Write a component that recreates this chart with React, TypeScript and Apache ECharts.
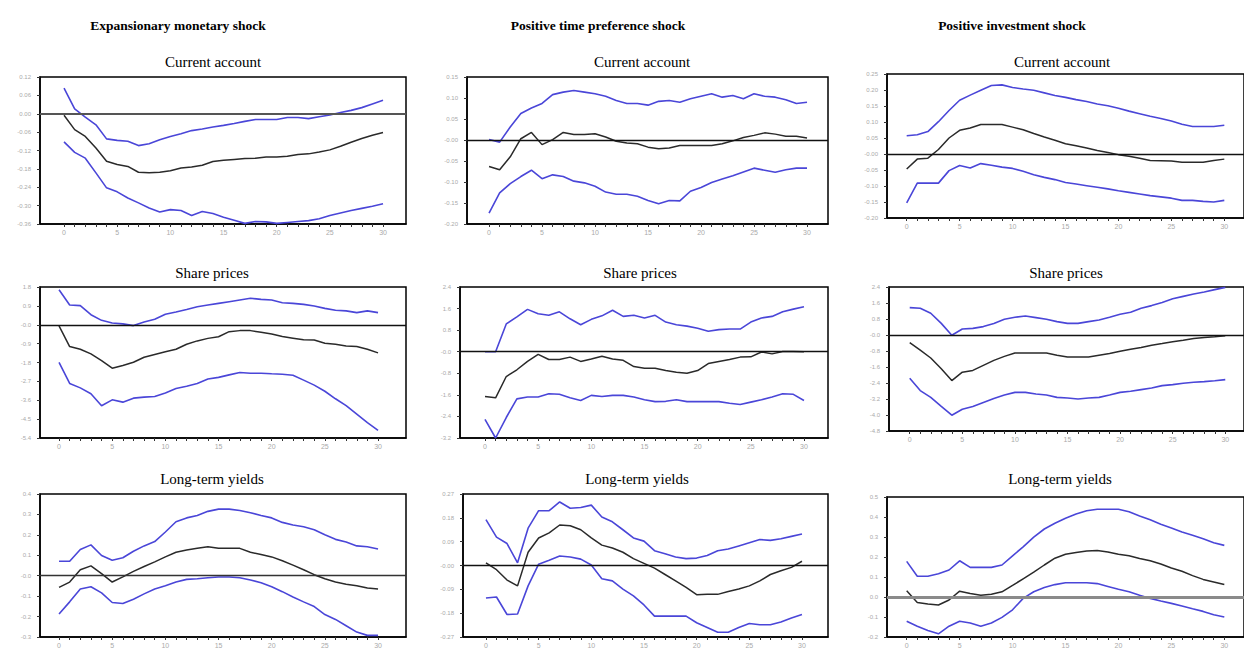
import React, { useEffect, useRef } from "react";
import * as echarts from "echarts";

// horizon (periods 0..30)
const periods = [0,1,2,3,4,5,6,7,8,9,10,11,12,13,14,15,16,17,18,19,20,21,22,23,24,25,26,27,28,29,30];
const xTickLabels = ["0", "5", "10", "15", "20", "25", "30"];
const xLabelValues = [0, 5, 10, 15, 20, 25, 30];

const columnTitles = ["Expansionary monetary shock", "Positive time preference shock", "Positive investment shock"];
const rowTitles = ["Current account", "Share prices", "Long-term yields"];

// ---- Row 1: Current account ----
const caMonUpper = [0.084,0.016,-0.011,-0.036,-0.082,-0.087,-0.090,-0.104,-0.098,-0.085,-0.074,-0.065,-0.055,-0.050,-0.043,-0.038,-0.032,-0.025,-0.019,-0.019,-0.019,-0.012,-0.012,-0.016,-0.010,-0.004,0.004,0.011,0.020,0.032,0.044];
const caMonMid = [-0.005,-0.052,-0.074,-0.112,-0.155,-0.166,-0.172,-0.191,-0.193,-0.191,-0.186,-0.177,-0.174,-0.168,-0.156,-0.152,-0.149,-0.146,-0.145,-0.141,-0.141,-0.139,-0.133,-0.131,-0.125,-0.118,-0.106,-0.093,-0.081,-0.070,-0.061];
const caMonLower = [-0.092,-0.126,-0.145,-0.193,-0.242,-0.255,-0.275,-0.291,-0.308,-0.321,-0.313,-0.316,-0.332,-0.319,-0.326,-0.338,-0.348,-0.358,-0.352,-0.353,-0.358,-0.355,-0.352,-0.349,-0.343,-0.332,-0.324,-0.316,-0.309,-0.302,-0.294];
const caMonTicks = [0.12, 0.06, 0, -0.06, -0.12, -0.18, -0.24, -0.30, -0.36];
const caMonTickLabels = ["0.12", "0.06", "0.00", "-0.06", "-0.12", "-0.18", "-0.24", "-0.30", "-0.36"];

const caTimeUpper = [0.001,-0.005,0.031,0.063,0.076,0.087,0.108,0.114,0.118,0.114,0.110,0.104,0.094,0.087,0.087,0.083,0.092,0.094,0.090,0.098,0.104,0.110,0.102,0.106,0.098,0.110,0.104,0.102,0.096,0.087,0.090];
const caTimeMid = [-0.063,-0.071,-0.040,0.003,0.018,-0.011,0.001,0.018,0.013,0.013,0.015,0.007,-0.003,-0.007,-0.009,-0.017,-0.021,-0.019,-0.013,-0.013,-0.013,-0.013,-0.009,-0.002,0.006,0.011,0.017,0.014,0.009,0.009,0.005];
const caTimeLower = [-0.174,-0.126,-0.104,-0.087,-0.072,-0.092,-0.083,-0.087,-0.098,-0.102,-0.110,-0.124,-0.129,-0.129,-0.134,-0.144,-0.152,-0.144,-0.145,-0.122,-0.113,-0.101,-0.093,-0.085,-0.076,-0.067,-0.072,-0.077,-0.071,-0.067,-0.067];
const caTimeTicks = [0.15, 0.10, 0.05, 0, -0.05, -0.10, -0.15, -0.20];
const caTimeTickLabels = ["0.15", "0.10", "0.05", "-0.00", "-0.05", "-0.10", "-0.15", "-0.20"];

const caInvUpper = [0.057,0.060,0.070,0.101,0.136,0.168,0.184,0.199,0.214,0.216,0.208,0.203,0.199,0.191,0.183,0.177,0.170,0.164,0.156,0.151,0.143,0.134,0.126,0.118,0.111,0.103,0.093,0.086,0.086,0.086,0.090];
const caInvMid = [-0.047,-0.016,-0.013,0.014,0.050,0.074,0.081,0.092,0.092,0.092,0.084,0.076,0.064,0.053,0.043,0.032,0.026,0.019,0.011,0.005,-0.002,-0.007,-0.013,-0.020,-0.021,-0.022,-0.026,-0.026,-0.026,-0.020,-0.016];
const caInvLower = [-0.153,-0.091,-0.091,-0.091,-0.052,-0.036,-0.044,-0.030,-0.035,-0.041,-0.045,-0.054,-0.065,-0.073,-0.080,-0.089,-0.094,-0.099,-0.104,-0.109,-0.115,-0.120,-0.125,-0.130,-0.134,-0.138,-0.145,-0.145,-0.148,-0.150,-0.145];
const caInvTicks = [0.25, 0.20, 0.15, 0.10, 0.05, 0, -0.05, -0.10, -0.15, -0.20];
const caInvTickLabels = ["0.25", "0.20", "0.15", "0.10", "0.05", "-0.00", "-0.05", "-0.10", "-0.15", "-0.20"];

// ---- Row 2: Share prices ----
const spMonUpper = [1.67,0.94,0.91,0.48,0.21,0.08,0.04,-0.04,0.13,0.26,0.50,0.61,0.73,0.86,0.94,1.02,1.10,1.18,1.26,1.21,1.18,1.05,1.02,0.97,0.89,0.78,0.69,0.66,0.58,0.66,0.58];
const spMonMid = [-0.05,-1.04,-1.17,-1.39,-1.71,-2.07,-1.94,-1.79,-1.55,-1.42,-1.29,-1.17,-0.93,-0.77,-0.65,-0.57,-0.33,-0.28,-0.28,-0.36,-0.44,-0.56,-0.64,-0.72,-0.73,-0.88,-0.93,-1.01,-1.04,-1.17,-1.34];
const spMonLower = [-1.79,-2.80,-3.01,-3.29,-3.86,-3.58,-3.69,-3.50,-3.45,-3.42,-3.25,-3.04,-2.93,-2.80,-2.59,-2.51,-2.39,-2.28,-2.31,-2.31,-2.34,-2.36,-2.41,-2.64,-2.88,-3.17,-3.53,-3.86,-4.26,-4.67,-5.04];
const spMonTicks = [1.8, 0.9, 0, -0.9, -1.8, -2.7, -3.6, -4.5, -5.4];
const spMonTickLabels = ["1.8", "0.9", "-0.0", "-0.9", "-1.8", "-2.7", "-3.6", "-4.5", "-5.4"];

const spTimeUpper = [0.0,0.0,1.03,1.29,1.57,1.41,1.35,1.48,1.22,1.00,1.20,1.33,1.54,1.31,1.35,1.25,1.35,1.10,1.00,0.95,0.87,0.76,0.82,0.84,0.84,1.10,1.25,1.31,1.48,1.58,1.67];
const spTimeMid = [-1.66,-1.71,-0.92,-0.67,-0.36,-0.10,-0.29,-0.29,-0.20,-0.36,-0.27,-0.17,-0.27,-0.32,-0.55,-0.61,-0.61,-0.70,-0.76,-0.80,-0.70,-0.44,-0.36,-0.29,-0.20,-0.19,-0.01,-0.08,0.01,0.01,0.0];
const spTimeLower = [-2.51,-3.20,-2.44,-1.75,-1.68,-1.68,-1.56,-1.58,-1.71,-1.81,-1.62,-1.66,-1.62,-1.62,-1.68,-1.78,-1.85,-1.84,-1.78,-1.85,-1.85,-1.85,-1.85,-1.91,-1.96,-1.87,-1.78,-1.68,-1.56,-1.58,-1.81];
const spTimeTicks = [2.4, 1.6, 0.8, 0, -0.8, -1.6, -2.4, -3.2];
const spTimeTickLabels = ["2.4", "1.6", "0.8", "-0.0", "-0.8", "-1.6", "-2.4", "-3.2"];

const spInvUpper = [1.37,1.34,1.09,0.58,-0.01,0.30,0.33,0.42,0.58,0.79,0.89,0.95,0.87,0.79,0.67,0.58,0.58,0.67,0.75,0.89,1.04,1.14,1.34,1.47,1.63,1.81,1.93,2.05,2.15,2.27,2.38];
const spInvMid = [-0.38,-0.76,-1.15,-1.69,-2.28,-1.86,-1.77,-1.52,-1.27,-1.07,-0.90,-0.90,-0.90,-0.90,-1.01,-1.10,-1.10,-1.10,-1.01,-0.93,-0.81,-0.71,-0.63,-0.51,-0.43,-0.34,-0.26,-0.17,-0.12,-0.09,-0.04];
const spInvLower = [-2.16,-2.78,-3.12,-3.57,-4.01,-3.71,-3.57,-3.37,-3.17,-3.00,-2.87,-2.87,-2.95,-3.00,-3.12,-3.15,-3.20,-3.15,-3.12,-3.00,-2.87,-2.81,-2.73,-2.65,-2.53,-2.48,-2.41,-2.36,-2.33,-2.29,-2.23];
const spInvTicks = [2.4, 1.6, 0.8, 0, -0.8, -1.6, -2.4, -3.2, -4.0, -4.8];
const spInvTickLabels = ["2.4", "1.6", "0.8", "-0.0", "-0.8", "-1.6", "-2.4", "-3.2", "-4.0", "-4.8"];

// ---- Row 3: Long-term yields ----
const lyMonUpper = [0.071,0.071,0.128,0.151,0.099,0.076,0.088,0.120,0.146,0.167,0.214,0.264,0.283,0.295,0.315,0.326,0.326,0.319,0.308,0.295,0.283,0.261,0.248,0.240,0.225,0.201,0.178,0.165,0.146,0.142,0.131];
const lyMonMid = [-0.057,-0.031,0.029,0.048,0.010,-0.031,-0.006,0.021,0.045,0.068,0.092,0.115,0.126,0.134,0.142,0.134,0.134,0.134,0.115,0.104,0.092,0.073,0.052,0.029,0.005,-0.015,-0.031,-0.042,-0.049,-0.060,-0.065];
const lyMonLower = [-0.187,-0.128,-0.065,-0.054,-0.084,-0.131,-0.136,-0.115,-0.089,-0.065,-0.049,-0.031,-0.018,-0.015,-0.010,-0.006,-0.006,-0.010,-0.021,-0.034,-0.054,-0.078,-0.104,-0.128,-0.151,-0.190,-0.214,-0.245,-0.276,-0.292,-0.292];
const lyMonTicks = [0.4, 0.3, 0.2, 0.1, 0, -0.1, -0.2, -0.3];
const lyMonTickLabels = ["0.4", "0.3", "0.2", "0.1", "-0.0", "-0.1", "-0.2", "-0.3"];

const lyTimeUpper = [0.173,0.107,0.083,0.010,0.141,0.207,0.207,0.240,0.216,0.219,0.228,0.183,0.165,0.135,0.104,0.092,0.056,0.044,0.032,0.026,0.028,0.038,0.056,0.062,0.074,0.086,0.098,0.095,0.101,0.110,0.119];
const lyTimeMid = [0.010,-0.016,-0.055,-0.077,0.050,0.104,0.123,0.153,0.150,0.135,0.104,0.077,0.066,0.050,0.026,0.008,-0.010,-0.034,-0.058,-0.083,-0.110,-0.109,-0.109,-0.098,-0.089,-0.077,-0.058,-0.034,-0.020,-0.007,0.016];
const lyTimeLower = [-0.123,-0.119,-0.185,-0.183,-0.077,0.005,0.020,0.036,0.032,0.024,0.002,-0.050,-0.058,-0.089,-0.115,-0.149,-0.191,-0.191,-0.191,-0.191,-0.216,-0.234,-0.252,-0.252,-0.234,-0.219,-0.224,-0.224,-0.213,-0.198,-0.185];
const lyTimeTicks = [0.27, 0.18, 0.09, 0, -0.09, -0.18, -0.27];
const lyTimeTickLabels = ["0.27", "0.18", "0.09", "-0.00", "-0.09", "-0.18", "-0.27"];

const lyInvUpper = [0.178,0.104,0.104,0.116,0.135,0.181,0.148,0.148,0.148,0.160,0.206,0.251,0.299,0.340,0.369,0.394,0.415,0.431,0.439,0.439,0.439,0.426,0.405,0.386,0.364,0.345,0.325,0.309,0.291,0.271,0.258];
const lyInvMid = [0.031,-0.027,-0.035,-0.040,-0.015,0.029,0.018,0.009,0.014,0.026,0.058,0.091,0.124,0.160,0.194,0.214,0.222,0.230,0.233,0.225,0.214,0.206,0.193,0.181,0.165,0.145,0.129,0.107,0.088,0.075,0.062];
const lyInvLower = [-0.121,-0.146,-0.167,-0.184,-0.146,-0.121,-0.130,-0.146,-0.130,-0.102,-0.064,-0.007,0.026,0.047,0.062,0.071,0.071,0.071,0.067,0.053,0.039,0.026,0.009,-0.007,-0.020,-0.032,-0.045,-0.059,-0.072,-0.089,-0.100];
const lyInvTicks = [0.5, 0.4, 0.3, 0.2, 0.1, 0, -0.1, -0.2];
const lyInvTickLabels = ["0.5", "0.4", "0.3", "0.2", "0.1", "0.0", "-0.1", "-0.2"];

type Panel = {
  upper: number[]; mid: number[]; lower: number[];
  ticks: number[]; tickLabels: string[];
  grid: { left: number; top: number; width: number; height: number };
  xMin: number; xMax: number;
  titleX: number; titleY: number; title: string;
  zeroColor: string; zeroWidth: number;
};

const panels: Panel[] = [
  { upper: caMonUpper, mid: caMonMid, lower: caMonLower, ticks: caMonTicks, tickLabels: caMonTickLabels,
    grid: { left: 40, top: 77, width: 366, height: 147 }, xMin: -2.26, xMax: 32.16, titleX: 213, titleY: 54, title: rowTitles[0], zeroColor: "#555", zeroWidth: 1.8 },
  { upper: caTimeUpper, mid: caTimeMid, lower: caTimeLower, ticks: caTimeTicks, tickLabels: caTimeTickLabels,
    grid: { left: 467, top: 77, width: 361, height: 147 }, xMin: -2.08, xMax: 31.98, titleX: 642, titleY: 54, title: rowTitles[0], zeroColor: "#111", zeroWidth: 1.3 },
  { upper: caInvUpper, mid: caInvMid, lower: caInvLower, ticks: caInvTicks, tickLabels: caInvTickLabels,
    grid: { left: 887, top: 74, width: 362, height: 144 }, xMin: -1.86, xMax: 31.86, titleX: 1062, titleY: 54, title: rowTitles[0], zeroColor: "#111", zeroWidth: 1.3 },
  { upper: spMonUpper, mid: spMonMid, lower: spMonLower, ticks: spMonTicks, tickLabels: spMonTickLabels,
    grid: { left: 40, top: 287, width: 366, height: 151 }, xMin: -1.79, xMax: 32.63, titleX: 212, titleY: 265, title: rowTitles[1], zeroColor: "#111", zeroWidth: 1.3 },
  { upper: spTimeUpper, mid: spTimeMid, lower: spTimeLower, ticks: spTimeTicks, tickLabels: spTimeTickLabels,
    grid: { left: 460, top: 287, width: 368, height: 151 }, xMin: -2.35, xMax: 32.26, titleX: 640, titleY: 265, title: rowTitles[1], zeroColor: "#111", zeroWidth: 1.3 },
  { upper: spInvUpper, mid: spInvMid, lower: spInvLower, ticks: spInvTicks, tickLabels: spInvTickLabels,
    grid: { left: 889, top: 287, width: 360, height: 144 }, xMin: -1.97, xMax: 31.78, titleX: 1066, titleY: 265, title: rowTitles[1], zeroColor: "#111", zeroWidth: 1.3 },
  { upper: lyMonUpper, mid: lyMonMid, lower: lyMonLower, ticks: lyMonTicks, tickLabels: lyMonTickLabels,
    grid: { left: 40, top: 494, width: 366, height: 149 }, xMin: -1.79, xMax: 32.63, titleX: 212, titleY: 471, title: rowTitles[2], zeroColor: "#333", zeroWidth: 1.3 },
  { upper: lyTimeUpper, mid: lyTimeMid, lower: lyTimeLower, ticks: lyTimeTicks, tickLabels: lyTimeTickLabels,
    grid: { left: 463, top: 494, width: 365, height: 149 }, xMin: -2.18, xMax: 32.47, titleX: 637, titleY: 471, title: rowTitles[2], zeroColor: "#111", zeroWidth: 1.3 },
  { upper: lyInvUpper, mid: lyInvMid, lower: lyInvLower, ticks: lyInvTicks, tickLabels: lyInvTickLabels,
    grid: { left: 887, top: 497, width: 362, height: 142 }, xMin: -1.86, xMax: 31.86, titleX: 1060, titleY: 471, title: rowTitles[2], zeroColor: "#8a8a8a", zeroWidth: 3 },
];

const columnTitleX = [178, 598, 1012];

const BLUE = "#4a46d8";
const BLACK = "#2a2a2a";

function App() {
  const ref = useRef<HTMLDivElement>(null);
  useEffect(() => {
    if (!ref.current) return;
    const chart = echarts.init(ref.current, undefined, { renderer: "svg" });
    const grids: any[] = [];
    const xAxes: any[] = [];
    const yAxes: any[] = [];
    const series: any[] = [];
    const titles: any[] = [];

    columnTitles.forEach((t, i) => {
      titles.push({
        text: t, left: columnTitleX[i], top: 18, textAlign: "center", padding: 0,
        textStyle: { fontFamily: "Liberation Serif, Times New Roman, serif", fontSize: 13.5, fontWeight: "bold", color: "#000" },
      });
    });

    panels.forEach((p, i) => {
      grids.push({ ...p.grid, show: true, borderColor: "#000", borderWidth: 1.5, backgroundColor: "transparent" });
      titles.push({
        text: p.title, left: p.titleX, top: p.titleY, textAlign: "center", padding: 0,
        textStyle: { fontFamily: "Liberation Serif, Times New Roman, serif", fontSize: 15, fontWeight: "normal", color: "#000" },
      });
      xAxes.push({
        type: "value", gridIndex: i, min: p.xMin, max: p.xMax,
        axisLine: { show: true, onZero: false, lineStyle: { color: "#000", width: 1.5 } },
        axisTick: { show: true, customValues: periods, length: 3, lineStyle: { color: "#333", width: 1 } },
        axisLabel: {
          show: true, customValues: xLabelValues, fontSize: 7, color: "#aaa", margin: 5,
          fontFamily: "Liberation Sans, Arial, sans-serif",
          formatter: (v: number) => xTickLabels[xLabelValues.indexOf(Math.round(v))] ?? "",
        },
        splitLine: { show: false },
      });
      const minY = p.ticks[p.ticks.length - 1];
      const maxY = p.ticks[0];
      yAxes.push({
        type: "value", gridIndex: i, min: minY, max: maxY,
        axisLine: { show: true, onZero: false, lineStyle: { color: "#000", width: 1.5 } },
        axisTick: { show: true, customValues: p.ticks, length: 3, lineStyle: { color: "#333", width: 1 } },
        axisLabel: {
          show: true, customValues: p.ticks, fontSize: 6, color: "#aaa", margin: 9,
          fontFamily: "Liberation Sans, Arial, sans-serif",
          formatter: (v: number) => {
            let idx = 0; let best = Infinity;
            p.ticks.forEach((t, k) => { const d = Math.abs(t - v); if (d < best) { best = d; idx = k; } });
            return p.tickLabels[idx];
          },
        },
        splitLine: { show: false },
      });
      const mk = (arr: number[]) => periods.map((x, k) => [x, arr[k]]);
      series.push({
        type: "line", xAxisIndex: i, yAxisIndex: i, data: mk(p.mid), showSymbol: false, symbol: "none",
        lineStyle: { color: BLACK, width: 1.5 }, z: 3,
        markLine: {
          silent: true, symbol: "none", label: { show: false },
          lineStyle: { color: p.zeroColor, width: p.zeroWidth, type: "solid" },
          data: [{ yAxis: 0 }],
        },
      });
      series.push({
        type: "line", xAxisIndex: i, yAxisIndex: i, data: mk(p.upper), showSymbol: false, symbol: "none",
        lineStyle: { color: BLUE, width: 1.6 }, z: 4,
      });
      series.push({
        type: "line", xAxisIndex: i, yAxisIndex: i, data: mk(p.lower), showSymbol: false, symbol: "none",
        lineStyle: { color: BLUE, width: 1.6 }, z: 4,
      });
    });

    chart.setOption({
      animation: false,
      backgroundColor: "#fff",
      title: titles,
      grid: grids,
      xAxis: xAxes,
      yAxis: yAxes,
      series,
    });
    return () => chart.dispose();
  }, []);

  return (
    <div
      ref={ref}
      style={{ position: "fixed", left: 0, top: 0, width: 1244, height: 649, background: "#fff" }}
    />
  );
}

export default App;
